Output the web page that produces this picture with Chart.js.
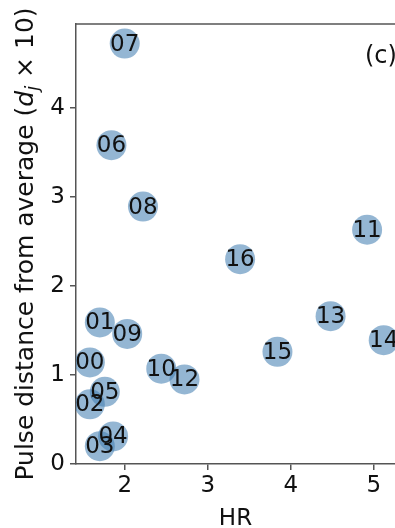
<!DOCTYPE html>
<html>
<head>
<meta charset="utf-8">
<script src="https://cdn.jsdelivr.net/npm/chart.js@4.4.0/dist/chart.umd.min.js"></script>
<style>
  html, body { margin: 0; padding: 0; background: #fff; }
  #wrap { width: 395px; height: 528px; }
</style>
</head>
<body>
<div id="wrap"><canvas id="c"></canvas></div>
<script>
// Data
const labels = ['00', '01', '02', '03', '04', '05', '06', '07', '08', '09', '10', '11', '12', '13', '14', '15', '16'];
const hr = [1.58, 1.70, 1.58, 1.70, 1.86, 1.76, 1.84, 2.00, 2.22, 2.03, 2.44, 4.92, 2.72, 4.48, 5.12, 3.84, 3.39];
const dist = [1.14, 1.59, 0.67, 0.20, 0.31, 0.81, 3.58, 4.72, 2.89, 1.46, 1.07, 2.63, 0.95, 1.66, 1.39, 1.26, 2.30];
const xTicks = [2, 3, 4, 5];
const yTicks = [0, 1, 2, 3, 4];

const FONT = 'DejaVu Sans';
const AXIS = '#555';

// top spine, point labels, y title with italic d_j, panel tag
const extras = {
  id: 'extras',
  afterDatasetsDraw(chart) {
    const ctx = chart.ctx;
    const meta = chart.getDatasetMeta(0);
    ctx.save();
    ctx.font = '23px ' + FONT;
    ctx.fillStyle = '#111';
    ctx.textAlign = 'center';
    ctx.textBaseline = 'middle';
    meta.data.forEach((pt, i) => {
      ctx.fillText(labels[i], pt.x, pt.y + 1);
    });
    ctx.restore();
  },
  afterDraw(chart) {
    const ctx = chart.ctx;
    const a = chart.chartArea;
    ctx.save();
    ctx.strokeStyle = AXIS;
    ctx.lineWidth = 1.5;
    ctx.beginPath();
    ctx.moveTo(a.left - 0.75, a.top);
    ctx.lineTo(chart.width, a.top);
    ctx.stroke();

    ctx.font = '24px ' + FONT;
    ctx.fillStyle = '#111';
    ctx.textBaseline = 'middle';
    ctx.textAlign = 'left';
    ctx.fillText('(c)', 365, 57);

    // y axis title
    const size = 25;
    const parts = [
      { t: 'Pulse distance from average (', f: size + 'px ' + FONT, dy: 0 },
      { t: 'd', f: 'italic ' + size + 'px ' + FONT, dy: 0 },
      { t: 'j', f: 'italic ' + Math.round(size * 0.7) + 'px ' + FONT, dy: 5 },
      { t: ' \u00d7 10)', f: size + 'px ' + FONT, dy: 0 }
    ];
    let total = 0;
    parts.forEach(p => { ctx.font = p.f; p.w = ctx.measureText(p.t).width; total += p.w; });
    ctx.translate(33, (a.top + a.bottom) / 2);
    ctx.rotate(-Math.PI / 2);
    ctx.textBaseline = 'alphabetic';
    let x = -total / 2;
    parts.forEach(p => {
      ctx.font = p.f;
      ctx.fillText(p.t, x, p.dy);
      x += p.w;
    });
    ctx.restore();
  }
};

new Chart(document.getElementById('c'), {
  type: 'scatter',
  data: {
    datasets: [{
      data: hr.map((v, i) => ({ x: v, y: dist[i] })),
      backgroundColor: 'rgba(70,130,180,0.58)',
      borderWidth: 0,
      pointRadius: 15,
      pointHoverRadius: 15
    }]
  },
  options: {
    responsive: true,
    maintainAspectRatio: false,
    animation: false,
    layout: { autoPadding: false, padding: { top: 24, right: 0, left: 0, bottom: 0 } },
    plugins: { legend: { display: false }, tooltip: { enabled: false } },
    scales: {
      x: {
        type: 'linear',
        min: 1.413,
        max: 5.256,
        afterBuildTicks: s => { s.ticks = xTicks.map(v => ({ value: v })); },
        afterFit: s => { s.height = 64; s.paddingLeft = 0; s.paddingRight = 0; },
        grid: { drawOnChartArea: false, tickLength: 6, color: AXIS, lineWidth: 1.5 },
        border: { color: AXIS, width: 1.5 },
        ticks: { color: '#111', font: { family: FONT, size: 23 }, padding: 2 },
        title: { display: true, text: 'HR', color: '#111', font: { family: FONT, size: 23 }, padding: { top: 0, bottom: -5 } }
      },
      y: {
        type: 'linear',
        min: 0,
        max: 4.94,
        afterBuildTicks: s => { s.ticks = yTicks.map(v => ({ value: v })); },
        afterFit: s => { s.width = 76; s.paddingTop = 0; s.paddingBottom = 0; },
        grid: { drawOnChartArea: false, tickLength: 6, color: AXIS, lineWidth: 1.5 },
        border: { color: AXIS, width: 1.5 },
        ticks: { color: '#111', font: { family: FONT, size: 23 }, padding: 5 }
      }
    }
  },
  plugins: [extras]
});
</script>
</body>
</html>
